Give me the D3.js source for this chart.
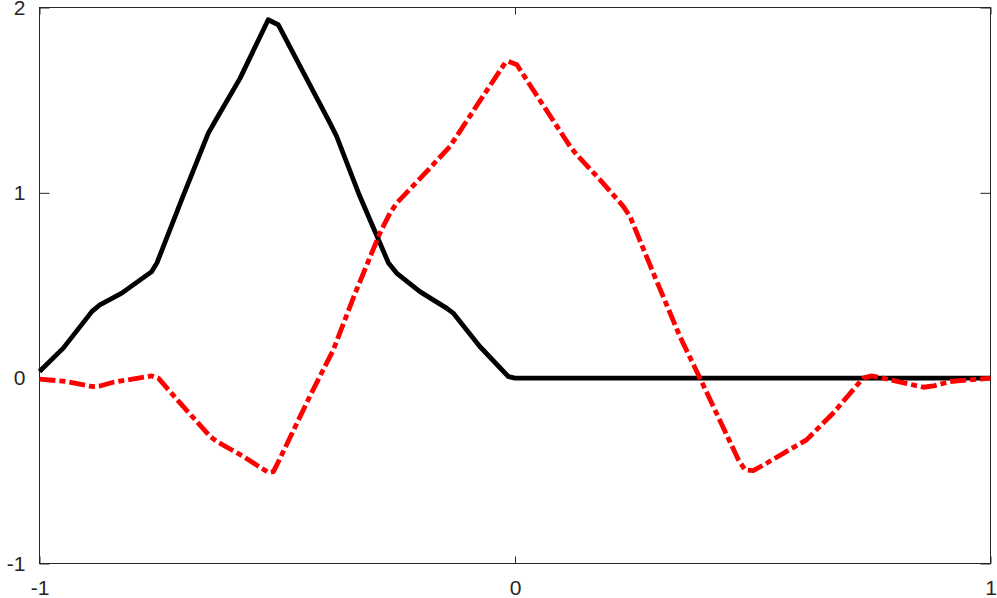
<!DOCTYPE html>
<html>
<head>
<meta charset="utf-8">
<script src="https://cdn.jsdelivr.net/npm/d3@7"></script>
<style>
  html, body { margin: 0; padding: 0; background: #fff; }
  svg { display: block; }
  text { font-family: "Liberation Sans", Arial, Helvetica, sans-serif; fill: #262626; }
</style>
</head>
<body>
<svg id="chart" width="997" height="598"></svg>
<script>
// ---- data ----
const blackX = [-1.0, -0.950, -0.890, -0.873, -0.827, -0.764, -0.753, -0.701, -0.645, -0.631, -0.578, -0.519, -0.498, -0.448, -0.389, -0.375, -0.329, -0.266, -0.249, -0.200, -0.144, -0.130, -0.074, -0.014, 0.0, 1.0];
const blackY = [0.036, 0.162, 0.359, 0.396, 0.459, 0.575, 0.622, 0.963, 1.322, 1.385, 1.619, 1.934, 1.907, 1.664, 1.376, 1.304, 0.998, 0.621, 0.567, 0.467, 0.378, 0.351, 0.171, 0.009, 0.0, 0.0];

const redX = [-1.0, -0.943, -0.890, -0.873, -0.845, -0.764, -0.750, -0.704, -0.641, -0.627, -0.571, -0.519, -0.508, -0.494, -0.430, -0.382, -0.336, -0.284, -0.263, -0.249, -0.189, -0.137, -0.123, -0.077, -0.021, -0.014, 0.004, 0.038, 0.116, 0.130, 0.179, 0.228, 0.242, 0.294, 0.347, 0.389, 0.470, 0.484, 0.501, 0.529, 0.613, 0.627, 0.669, 0.732, 0.750, 0.774, 0.859, 0.880, 0.915, 1.0];
const redY = [-0.005, -0.018, -0.045, -0.042, -0.022, 0.012, 0.0, -0.135, -0.315, -0.342, -0.423, -0.509, -0.504, -0.432, -0.090, 0.153, 0.459, 0.783, 0.890, 0.944, 1.106, 1.250, 1.304, 1.484, 1.700, 1.709, 1.691, 1.556, 1.250, 1.205, 1.070, 0.926, 0.872, 0.548, 0.224, 0.0, -0.441, -0.495, -0.499, -0.459, -0.333, -0.297, -0.189, 0.0, 0.012, 0.0, -0.049, -0.042, -0.018, 0.0];

const xTicks = [-1, 0, 1];
const yTicks = [-1, 0, 1, 2];
const xDomain = [-1, 1];
const yDomain = [-1, 2];

// ---- layout ----
const W = 997, H = 598;
const L = 39.5, R = 990.5, T = 7.5, B = 563.5;
const axisColor = "#262626";

const svg = d3.select("#chart");
const x = d3.scaleLinear().domain(xDomain).range([L, R]);
const y = d3.scaleLinear().domain(yDomain).range([B, T]);

// box
svg.append("rect")
  .attr("x", L).attr("y", T)
  .attr("width", R - L).attr("height", B - T)
  .attr("fill", "none").attr("stroke", axisColor).attr("stroke-width", 1);

// bottom axis (labels + inward ticks)
const xAxisB = d3.axisBottom(x).tickValues(xTicks).tickSizeInner(-7).tickSizeOuter(0).tickPadding(17)
  .tickFormat(d3.format("d"));
const gxB = svg.append("g").attr("transform", `translate(0,${B})`).call(xAxisB);
const xAxisT = d3.axisTop(x).tickValues(xTicks).tickSizeInner(-7).tickSizeOuter(0).tickFormat("");
const gxT = svg.append("g").attr("transform", `translate(0,${T})`).call(xAxisT);

const yAxisL = d3.axisLeft(y).tickValues(yTicks).tickSizeInner(-10).tickSizeOuter(0).tickPadding(14)
  .tickFormat(d3.format("d"));
const gyL = svg.append("g").attr("transform", `translate(${L},0)`).call(yAxisL);
const yAxisR = d3.axisRight(y).tickValues(yTicks).tickSizeInner(-10).tickSizeOuter(0).tickFormat("");
const gyR = svg.append("g").attr("transform", `translate(${R},0)`).call(yAxisR);

[gxB, gxT, gyL, gyR].forEach(g => {
  g.select(".domain").remove();
  g.selectAll(".tick line").attr("stroke", axisColor).attr("stroke-width", 1);
  g.selectAll(".tick text")
    .attr("fill", axisColor)
    .style("font-family", '"Liberation Sans", Arial, Helvetica, sans-serif')
    .style("font-size", "21px")
    .text(function(d){ return d3.select(this).text().replace("−", "-"); });
});
gxB.selectAll(".tick text").attr("dy", "0.71em").attr("y", 17);

// lines
const line = d3.line().x(d => x(d[0])).y(d => y(d[1]));
const blackData = blackX.map((v, i) => [v, blackY[i]]);
const redData = redX.map((v, i) => [v, redY[i]]);

svg.append("path").datum(blackData)
  .attr("d", line)
  .attr("fill", "none").attr("stroke", "#000")
  .attr("stroke-width", 4.8).attr("stroke-linejoin", "round");

svg.append("path").datum(redData)
  .attr("d", line)
  .attr("fill", "none").attr("stroke", "#ff0000")
  .attr("stroke-width", 4.8).attr("stroke-linejoin", "round")
  .attr("stroke-dasharray", "16,4,6,4");
</script>
</body>
</html>
